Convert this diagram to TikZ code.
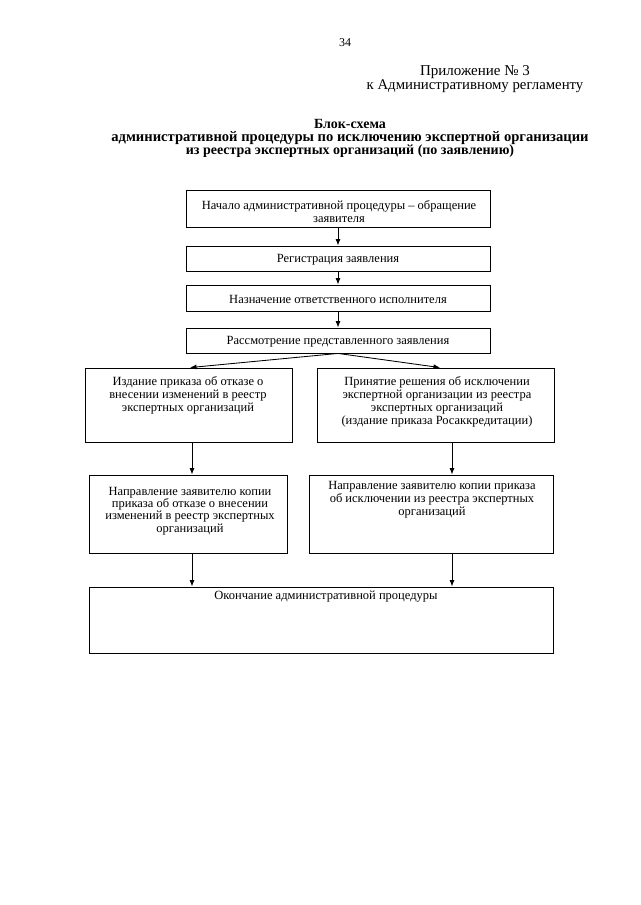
\documentclass[tikz,border=0pt]{standalone}
\usepackage{fontspec}
\setmainfont{Liberation Serif}
\usetikzlibrary{arrows.meta}
\begin{document}
\begin{tikzpicture}[x=1pt,y=-1pt,
  box/.style={draw, line width=0.85pt, inner sep=0pt},
  txt/.style={align=center, inner sep=0pt, font=\fontsize{12.5}{13}\selectfont},
  arr/.style={line width=0.85pt, -{Latex[length=6.5pt,width=5pt]}}]
\useasboundingbox[fill=white] (0,0) rectangle (640,905);
% header
\node[inner sep=0pt, font=\fontsize{12}{13}\selectfont] (pg) at (345,43) {34};
\node[inner sep=0pt, align=center, font=\fontsize{14.8}{13.5}\selectfont] (app) at (475,79) {{\fontsize{15}{13.5}\selectfont Приложение № 3}\\к Административному регламенту};
\node[inner sep=0pt, align=center, font=\bfseries\fontsize{14}{13}\selectfont] (title) at (350,138) {Блок-схема\\{\fontsize{14.6}{13}\selectfont административной процедуры по исключению экспертной организации}\\из реестра экспертных организаций (по заявлению)};
% boxes
\node[box, minimum width=304pt, minimum height=37pt] (b1) at (338,208.5) {};
\node[box, minimum width=304pt, minimum height=25pt] (b2) at (338,258.5) {};
\node[box, minimum width=304pt, minimum height=26pt] (b3) at (338,298) {};
\node[box, minimum width=304pt, minimum height=25pt] (b4) at (338,340.5) {};
\node[box, minimum width=207pt, minimum height=74pt] (b5) at (188.5,405) {};
\node[box, minimum width=237pt, minimum height=74pt] (b6) at (435.5,405) {};
\node[box, minimum width=198pt, minimum height=78pt] (b7) at (188,514) {};
\node[box, minimum width=244pt, minimum height=78pt] (b8) at (431,514) {};
\node[box, minimum width=464pt, minimum height=66pt] (b9) at (321,620) {};
% texts
\node[txt] (x1) at (339,211.5) {Начало административной процедуры – обращение\\заявителя};
\node[txt] (x2) at (338,260) {Регистрация заявления};
\node[txt] (x3) at (338,299) {Назначение ответственного исполнителя};
\node[txt] (x4) at (338,342) {Рассмотрение представленного заявления};
\node[txt] (x5) at (188,395) {Издание приказа об отказе о\\внесении изменений в реестр\\экспертных организаций};
\node[txt] (x6) at (437,402) {Принятие решения об исключении\\экспертной организации из реестра\\экспертных организаций\\(издание приказа Росаккредитации)};
\node[txt, font=\fontsize{12.5}{12.2}\selectfont] (x7) at (190,511) {Направление заявителю копии\\приказа об отказе о внесении\\изменений в реестр экспертных\\организаций};
\node[txt] (x8) at (432,500) {Направление заявителю копии приказа\\об исключении из реестра экспертных\\организаций};
\node[txt] (x9) at (326,597) {Окончание административной процедуры};
% coordinates for arrow columns
\coordinate (cl) at (192,0);
\coordinate (cr) at (452,0);
\coordinate (dl) at (190,0);
\coordinate (dr) at (440,0);
% arrows
\draw[arr] (b1) -- (b2);
\draw[arr] (b2) -- (b3);
\draw[arr] (b3) -- (b4);
\draw[arr] (b4.south) -- (b5.north -| dl);
\draw[arr] (b4.south) -- (b6.north -| dr);
\draw[arr] (b5.south -| cl) -- (b7.north -| cl);
\draw[arr] (b6.south -| cr) -- (b8.north -| cr);
\draw[arr] (b7.south -| cl) -- (b9.north -| cl);
\draw[arr] (b8.south -| cr) -- (b9.north -| cr);
\end{tikzpicture}
\end{document}
